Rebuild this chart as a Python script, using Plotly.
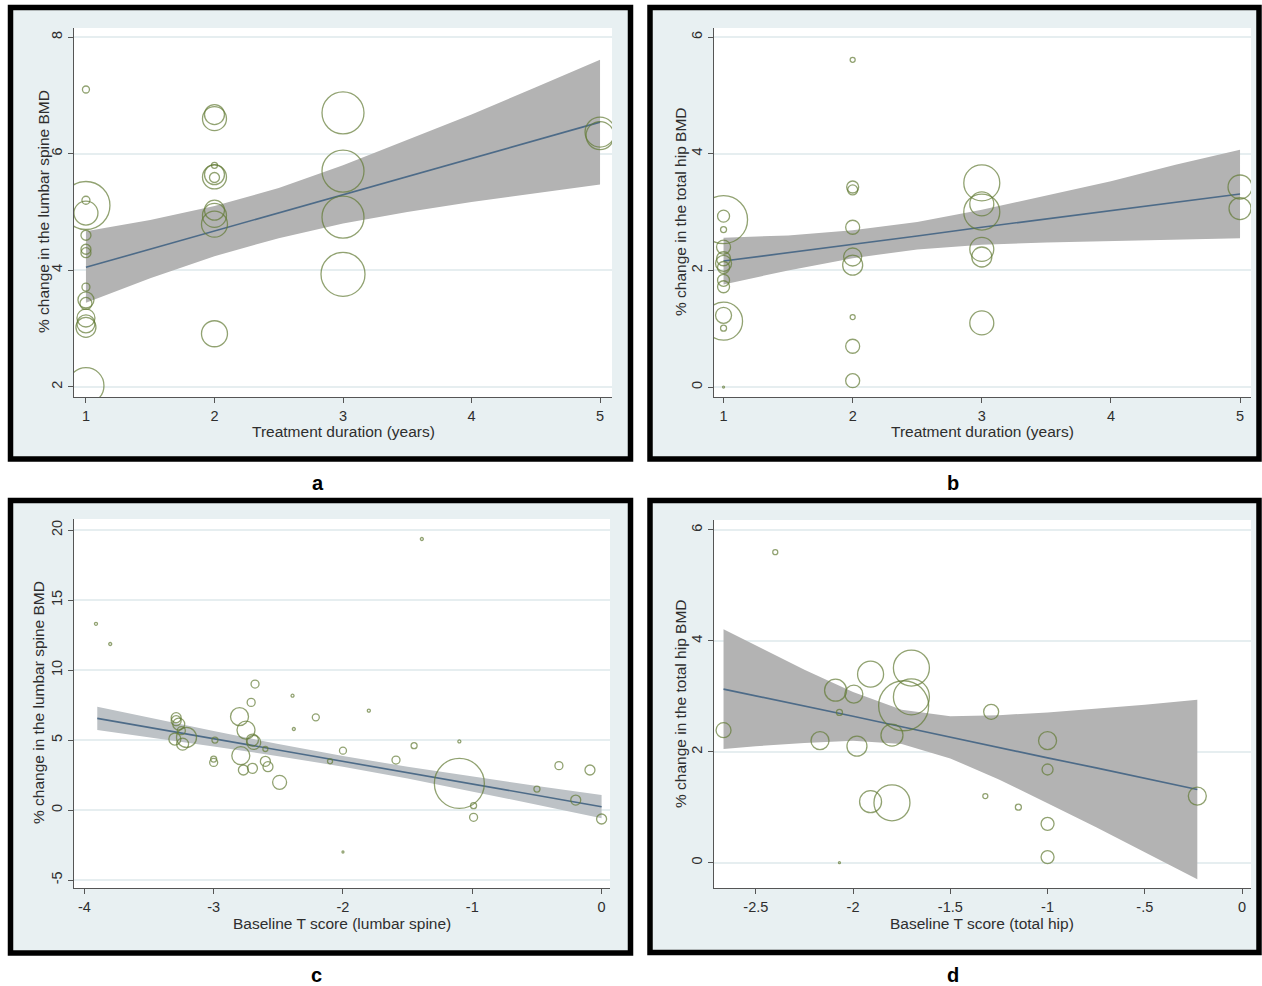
import plotly.graph_objects as go

# ---------------- data ----------------
# Panel a: treatment duration vs % change lumbar spine BMD
a_x = [1, 1, 1, 1, 1, 1, 1, 1, 1, 1, 1, 1, 1, 1,
       2, 2, 2, 2, 2, 2, 2, 2, 2, 2,
       3, 3, 3, 3,
       5, 5]
a_y = [7.10, 5.11, 5.20, 4.98, 4.60, 4.36, 4.30, 3.71, 3.49, 3.43, 3.18, 3.08, 3.02, 2.02,
       6.67, 6.60, 5.80, 5.64, 5.60, 5.59, 5.03, 4.94, 4.79, 2.91,
       6.70, 5.70, 4.91, 3.93,
       6.37, 6.31]
a_w = [7, 48, 8, 24, 10, 10, 10, 8, 16, 12, 18, 18, 20, 36,
       20, 24, 6, 20, 24, 10, 20, 24, 26, 26,
       42, 42, 42, 44,
       30, 28]
a_fx = [1, 1.5, 2, 2.5, 3, 3.5, 4, 4.5, 5]
a_fit = [4.05, 4.36, 4.67, 4.98, 5.30, 5.61, 5.92, 6.23, 6.54]
a_hi = [4.67, 4.86, 5.10, 5.41, 5.80, 6.23, 6.67, 7.14, 7.61]
a_lo = [3.44, 3.86, 4.24, 4.55, 4.80, 5.00, 5.17, 5.32, 5.47]

# Panel b: treatment duration vs % change total hip BMD
b_x = [1, 1, 1, 1, 1, 1, 1, 1, 1, 1, 1, 1, 1,
       2, 2, 2, 2, 2, 2, 2, 2, 2,
       3, 3, 3, 3, 3, 3,
       5, 5]
b_y = [2.87, 2.93, 2.70, 2.40, 2.20, 2.12, 2.05, 1.83, 1.72, 1.13, 1.23, 1.01, 0.0,
       5.61, 3.43, 3.38, 2.74, 2.23, 2.09, 1.20, 0.70, 0.11,
       3.50, 3.14, 3.00, 2.36, 2.23, 1.10,
       3.43, 3.06]
b_w = [48, 12, 6, 14, 14, 16, 12, 12, 12, 38, 16, 6, 2,
       5, 12, 10, 14, 18, 20, 5, 14, 14,
       36, 24, 36, 24, 20, 24,
       24, 22]
b_fx = [1, 1.5, 2, 2.5, 3, 3.5, 4, 4.5, 5]
b_fit = [2.16, 2.30, 2.45, 2.59, 2.74, 2.88, 3.02, 3.17, 3.31]
b_hi = [2.56, 2.60, 2.69, 2.83, 3.04, 3.28, 3.53, 3.81, 4.07]
b_lo = [1.76, 2.00, 2.21, 2.36, 2.44, 2.48, 2.51, 2.53, 2.55]

# Panel c: baseline T score (lumbar spine) vs % change lumbar spine BMD
c_x = [-3.91, -3.80, -1.39, -2.00, -2.39, -2.38, -1.80, -1.10,
       -2.68, -2.71, -2.21, -2.00, -2.10, -2.99, -3.00, -3.00,
       -1.59, -1.45, -0.33, -0.09, -0.50, -0.20, -0.99, -0.99, 0.00,
       -1.10,
       -3.29, -3.29, -3.27, -3.30, -3.24, -3.21, -3.25,
       -2.80, -2.75, -2.69, -2.70, -2.79, -2.77, -2.70, -2.60, -2.58, -2.60, -2.49]
c_y = [13.3, 11.86, 19.36, -3.0, 8.17, 5.79, 7.10, 4.90,
       9.00, 7.69, 6.62, 4.24, 3.48, 5.00, 3.64, 3.40,
       3.57, 4.60, 3.17, 2.86, 1.50, 0.71, 0.31, -0.52, -0.64,
       1.90,
       6.38, 6.60, 6.14, 5.07, 4.71, 5.19, 5.67,
       6.67, 5.71, 4.83, 5.00, 3.88, 2.86, 2.98, 3.48, 3.10, 4.36, 1.98]
c_w = [3, 3, 3, 2, 3, 3, 3, 3,
       8, 8, 7, 7, 5, 6, 6, 8,
       8, 6, 8, 10, 6, 10, 6, 8, 10,
       50,
       10, 10, 12, 12, 12, 20, 8,
       18, 18, 14, 12, 18, 10, 10, 10, 10, 5, 14]
c_fx = [-3.9, -3.5, -3.0, -2.5, -2.0, -1.5, -1.0, -0.5, 0.0]
c_fit = [6.55, 5.90, 5.09, 4.28, 3.48, 2.67, 1.86, 1.05, 0.24]
c_hi = [7.38, 6.60, 5.64, 4.71, 3.86, 3.09, 2.38, 1.72, 1.07]
c_lo = [5.72, 5.20, 4.54, 3.85, 3.10, 2.25, 1.34, 0.38, -0.59]

# Panel d: baseline T score (total hip) vs % change total hip BMD
d_x = [-2.40, -2.07, -2.666, -2.17, -2.09, -1.996, -2.07, -1.91, -1.98, -1.80,
       -1.91, -1.80, -1.70, -1.70, -1.74, -1.29, -1.32, -1.15,
       -1.00, -1.00, -1.00, -1.00, -0.23]
d_y = [5.60, 0.00, 2.39, 2.20, 3.11, 3.04, 2.71, 3.40, 2.10, 2.30,
       1.10, 1.08, 3.51, 2.99, 2.83, 2.72, 1.20, 1.00,
       2.20, 1.68, 0.70, 0.10, 1.20]
d_w = [5, 2, 15, 18, 22, 18, 6, 26, 20, 22,
       22, 36, 36, 36, 50, 15, 5, 6,
       18, 11, 13, 13, 18]
d_fx = [-2.666, -2.5, -2.25, -2.0, -1.75, -1.5, -1.25, -1.0, -0.75, -0.5, -0.23]
d_fit = [3.13, 3.01, 2.82, 2.64, 2.45, 2.26, 2.08, 1.89, 1.71, 1.52, 1.32]
d_hi = [4.21, 3.92, 3.48, 3.08, 2.76, 2.64, 2.66, 2.71, 2.78, 2.85, 2.94]
d_lo = [2.05, 2.10, 2.16, 2.20, 2.14, 1.88, 1.50, 1.07, 0.64, 0.19, -0.30]

# tick values and labels
a_xt = [1, 2, 3, 4, 5]
a_yt = [2, 4, 6, 8]
b_yt = [0, 2, 4, 6]
c_xt = [-4, -3, -2, -1, 0]
c_xl = ["-4", "-3", "-2", "-1", "0"]
c_yt = [-5, 0, 5, 10, 15, 20]
c_yl = ["-5", "0", "5", "10", "15", "20"]
d_xt = [-2.5, -2, -1.5, -1, -0.5, 0]
d_xl = ["-2.5", "-2", "-1.5", "-1", "-.5", "0"]
d_yt = [0, 2, 4, 6]

# ---------------- styling ----------------
W, H = 1262, 986
FONT = "Liberation Sans, Arial, sans-serif"
MARK = "#627a35"
LINE = "#4d6b88"
BAND = "#b3b3b3"
PANEL_BG = "#e8f0f2"
GRID = "#e6eef0"
AX = "#555555"
TXT = "#2e2e2e"


def fx(px):
    return px / W


def fy(py):
    return 1 - py / H


fig = go.Figure()

panels = [
    dict(ax="", x=a_x, y=a_y, w=a_w, fx=a_fx, fit=a_fit, hi=a_hi, lo=a_lo,
         band=BAND),
    dict(ax="2", x=b_x, y=b_y, w=b_w, fx=b_fx, fit=b_fit, hi=b_hi, lo=b_lo,
         band=BAND),
    dict(ax="3", x=c_x, y=c_y, w=c_w, fx=c_fx, fit=c_fit, hi=c_hi, lo=c_lo,
         band="#bdc2c6"),
    dict(ax="4", x=d_x, y=d_y, w=d_w, fx=d_fx, fit=d_fit, hi=d_hi, lo=d_lo,
         band=BAND),
]

for p in panels:
    xa = "x" + p["ax"]
    ya = "y" + p["ax"]
    fig.add_trace(go.Scatter(
        x=p["fx"] + p["fx"][::-1], y=p["hi"] + p["lo"][::-1],
        fill="toself", fillcolor=p["band"], line=dict(width=0),
        mode="lines", hoverinfo="skip", showlegend=False, xaxis=xa, yaxis=ya))
    fig.add_trace(go.Scatter(
        x=p["fx"], y=p["fit"], mode="lines", line=dict(color=LINE, width=1.6),
        showlegend=False, xaxis=xa, yaxis=ya))
    fig.add_trace(go.Scatter(
        x=p["x"], y=p["y"], mode="markers",
        marker=dict(symbol="circle-open", size=p["w"], sizemode="diameter",
                    color=MARK, line=dict(width=1.3, color=MARK)),
        showlegend=False, xaxis=xa, yaxis=ya))

# panel geometry in pixels: plot area (x0, x1, y0, y1)
areas = {
    "": (74, 612, 28, 397),
    "2": (714, 1251, 28, 397),
    "3": (74, 610, 519, 888),
    "4": (714, 1251, 520, 888),
}

axis_common = dict(showline=True, linecolor=AX, linewidth=1.2, ticks="outside",
                   ticklen=5, tickcolor=AX, tickwidth=1.2, zeroline=False,
                   tickfont=dict(family=FONT, size=14.5, color=TXT))

xcfg = {
    "": dict(range=[0.907, 5.093], tickvals=a_xt, title="Treatment duration (years)"),
    "2": dict(range=[0.926, 5.085], tickvals=a_xt, title="Treatment duration (years)"),
    "3": dict(range=[-4.08, 0.065], tickvals=c_xt, ticktext=c_xl,
              title="Baseline T score (lumbar spine)"),
    "4": dict(range=[-2.715, 0.046], tickvals=d_xt, ticktext=d_xl,
              title="Baseline T score (total hip)"),
}
ycfg = {
    "": dict(range=[1.825, 8.155], tickvals=a_yt, title="% change in the lumbar spine BMD"),
    "2": dict(range=[-0.17, 6.155], tickvals=b_yt, title="% change in the total hip BMD"),
    "3": dict(range=[-5.57, 20.79], tickvals=c_yt, ticktext=c_yl,
              title="% change in the lumbar spine BMD"),
    "4": dict(range=[-0.457, 6.18], tickvals=d_yt, title="% change in the total hip BMD"),
}
# title centres (pixels)
xtitle_pos = {"": (343, 431), "2": (982, 431), "3": (342, 923), "4": (982, 923)}
ytitle_pos = {"": (43, 212), "2": (680, 212), "3": (38, 703), "4": (680, 704)}

lay = {}
annotations = []
for k, (x0, x1, y0, y1) in areas.items():
    xc = xcfg[k]
    yc = ycfg[k]
    xd = dict(axis_common, domain=[fx(x0), fx(x1)], range=xc["range"],
              tickvals=xc["tickvals"], showgrid=False, anchor="y" + k)
    if "ticktext" in xc:
        xd["ticktext"] = xc["ticktext"]
    yd = dict(axis_common, domain=[fy(y1), fy(y0)], range=yc["range"],
              tickvals=yc["tickvals"], showgrid=True, gridcolor=GRID,
              gridwidth=1.5, tickangle=-90, anchor="x" + k)
    if "ticktext" in yc:
        yd["ticktext"] = yc["ticktext"]
    lay["xaxis" + k] = xd
    lay["yaxis" + k] = yd
    tx, ty = xtitle_pos[k]
    annotations.append(dict(text=xc["title"], x=fx(tx), y=fy(ty), xref="paper",
                            yref="paper", showarrow=False, xanchor="center",
                            yanchor="middle",
                            font=dict(family=FONT, size=15.5, color=TXT)))
    tx, ty = ytitle_pos[k]
    annotations.append(dict(text=yc["title"], x=fx(tx), y=fy(ty), xref="paper",
                            yref="paper", showarrow=False, xanchor="center",
                            yanchor="middle", textangle=-90,
                            font=dict(family=FONT, size=15.5, color=TXT)))

shapes = []
# panel outer boxes (background + thick black border)
boxes = [(10.5, 630.5, 7.5, 459), (650, 1259, 7.5, 459),
         (10.5, 630.5, 500.5, 953), (650, 1259, 500.5, 952.5)]
for (x0, x1, y0, y1) in boxes:
    shapes.append(dict(type="rect", xref="paper", yref="paper", layer="below",
                       x0=fx(x0), x1=fx(x1), y0=fy(y1), y1=fy(y0),
                       fillcolor=PANEL_BG, line=dict(color="black", width=5.5)))
for k, (x0, x1, y0, y1) in areas.items():
    shapes.append(dict(type="rect", xref="paper", yref="paper", layer="below",
                       x0=fx(x0), x1=fx(x1), y0=fy(y1), y1=fy(y0),
                       fillcolor="white", line=dict(width=0)))

for lab, (px, py) in zip(["a", "b", "c", "d"],
                         [(318, 483), (953, 483), (316, 975), (953, 975)]):
    annotations.append(dict(text="<b>%s</b>" % lab, x=fx(px), y=fy(py),
                            xref="paper", yref="paper", showarrow=False,
                            xanchor="center", yanchor="middle",
                            font=dict(family=FONT, size=20, color="black")))

fig.update_layout(width=W, height=H, autosize=False,
                  margin=dict(l=0, r=0, t=0, b=0),
                  paper_bgcolor="white", plot_bgcolor="rgba(0,0,0,0)",
                  shapes=shapes, annotations=annotations, showlegend=False,
                  **lay)

fig.write_html("out.html", config={"displayModeBar": False},
               post_script="document.body.style.margin='0px';"
                           "document.body.style.overflow='hidden';")
